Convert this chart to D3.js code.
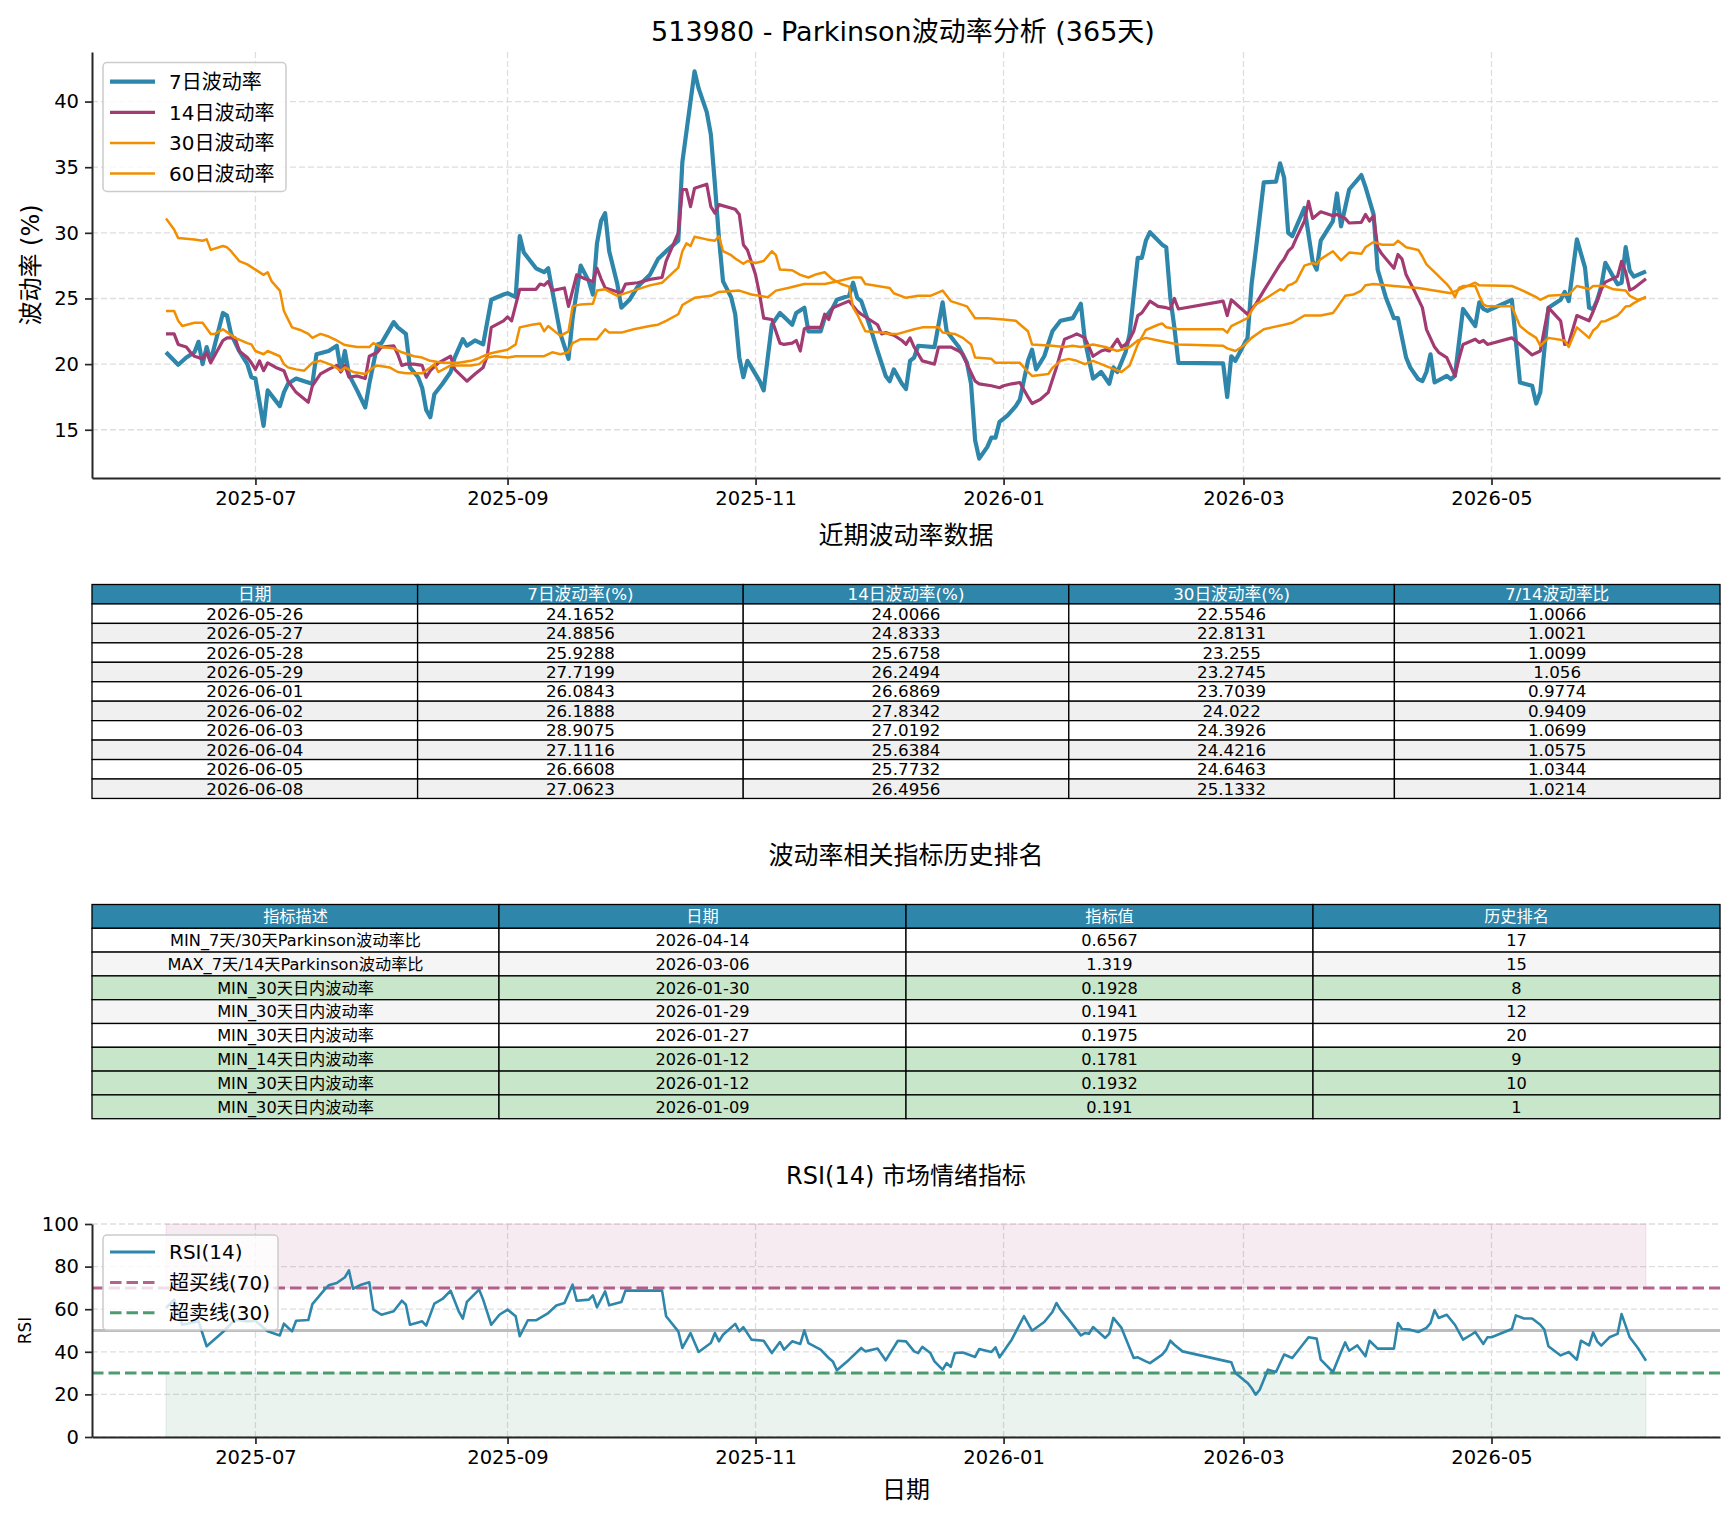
<!DOCTYPE html>
<html><head><meta charset="utf-8">
<script src="https://cdn.jsdelivr.net/npm/d3@7/dist/d3.min.js"></script>
<style>
body{margin:0;background:#fff;}
svg text{font-family:"DejaVu Sans","Noto Sans CJK SC",sans-serif;fill:#000;}
</style></head><body>
<svg id="c" width="1734" height="1516"></svg>
<script>
// ---------------- DATA ----------------
const vol7 = [["2025-06-09",20.9],["2025-06-12",19.95],["2025-06-14",20.5],["2025-06-16",20.9],["2025-06-17",21.7],["2025-06-18",20.0],["2025-06-19",21.3],["2025-06-20",20.25],["2025-06-23",23.9],["2025-06-24",23.7],["2025-06-25",22.3],["2025-06-27",21.0],["2025-06-29",20.0],["2025-06-30",19.0],["2025-07-01",18.9],["2025-07-03",15.3],["2025-07-04",18.0],["2025-07-07",16.8],["2025-07-08",17.85],["2025-07-09",18.5],["2025-07-11",18.9],["2025-07-13",18.7],["2025-07-15",18.5],["2025-07-16",20.75],["2025-07-19",21.0],["2025-07-21",21.4],["2025-07-22",19.5],["2025-07-23",21.0],["2025-07-24",19.2],["2025-07-26",18.0],["2025-07-28",16.7],["2025-07-29",18.5],["2025-07-31",21.5],["2025-08-01",21.6],["2025-08-04",23.2],["2025-08-05",22.8],["2025-08-07",22.3],["2025-08-08",19.75],["2025-08-10",19.0],["2025-08-11",18.2],["2025-08-12",16.5],["2025-08-13",15.95],["2025-08-14",17.7],["2025-08-16",18.5],["2025-08-18",19.4],["2025-08-19",20.5],["2025-08-21",21.9],["2025-08-22",21.4],["2025-08-24",21.8],["2025-08-26",21.5],["2025-08-28",24.9],["2025-08-31",25.3],["2025-09-01",25.4],["2025-09-03",25.1],["2025-09-04",29.75],["2025-09-05",28.5],["2025-09-08",27.3],["2025-09-10",27.0],["2025-09-11",27.3],["2025-09-12",25.6],["2025-09-14",22.3],["2025-09-16",20.4],["2025-09-17",23.5],["2025-09-19",27.5],["2025-09-21",26.3],["2025-09-22",25.3],["2025-09-23",29.2],["2025-09-24",30.9],["2025-09-25",31.5],["2025-09-26",28.6],["2025-09-28",26.1],["2025-09-29",24.3],["2025-10-01",24.9],["2025-10-03",25.9],["2025-10-06",26.8],["2025-10-08",28.0],["2025-10-10",28.6],["2025-10-13",29.4],["2025-10-14",35.4],["2025-10-15",37.7],["2025-10-17",42.3],["2025-10-18",41.0],["2025-10-20",39.2],["2025-10-21",37.5],["2025-10-22",33.7],["2025-10-23",29.6],["2025-10-24",26.3],["2025-10-26",25.1],["2025-10-27",23.8],["2025-10-28",20.5],["2025-10-29",19.0],["2025-10-30",20.25],["2025-10-31",19.75],["2025-11-02",18.7],["2025-11-03",18.0],["2025-11-05",23.0],["2025-11-07",23.9],["2025-11-09",23.3],["2025-11-10",23.0],["2025-11-11",23.9],["2025-11-13",24.3],["2025-11-14",22.5],["2025-11-17",22.5],["2025-11-18",23.5],["2025-11-20",24.3],["2025-11-21",24.9],["2025-11-24",25.2],["2025-11-25",26.2],["2025-11-26",25.05],["2025-11-27",24.8],["2025-11-29",23.0],["2025-12-01",21.0],["2025-12-03",19.1],["2025-12-04",18.7],["2025-12-05",19.6],["2025-12-07",18.5],["2025-12-08",18.1],["2025-12-09",20.25],["2025-12-10",20.5],["2025-12-11",21.4],["2025-12-15",21.3],["2025-12-17",24.7],["2025-12-18",22.5],["2025-12-21",21.3],["2025-12-23",20.1],["2025-12-24",18.5],["2025-12-25",14.2],["2025-12-26",12.8],["2025-12-28",13.7],["2025-12-29",14.4],["2025-12-30",14.4],["2025-12-31",15.6],["2026-01-02",16.1],["2026-01-04",16.8],["2026-01-05",17.3],["2026-01-07",20.25],["2026-01-08",21.1],["2026-01-09",19.6],["2026-01-11",20.6],["2026-01-13",22.5],["2026-01-15",23.3],["2026-01-18",23.5],["2026-01-20",24.6],["2026-01-21",21.8],["2026-01-23",18.9],["2026-01-25",19.4],["2026-01-27",18.5],["2026-01-28",19.75],["2026-01-29",19.4],["2026-01-31",20.9],["2026-02-01",22.3],["2026-02-03",28.1],["2026-02-04",28.1],["2026-02-05",29.4],["2026-02-06",30.05],["2026-02-09",29.1],["2026-02-10",28.9],["2026-02-11",25.1],["2026-02-12",22.8],["2026-02-13",20.1],["2026-02-24",20.05],["2026-02-25",17.5],["2026-02-26",20.6],["2026-02-27",20.25],["2026-03-02",22.0],["2026-03-03",26.1],["2026-03-04",28.6],["2026-03-06",33.85],["2026-03-09",33.9],["2026-03-10",35.3],["2026-03-11",34.2],["2026-03-12",30.0],["2026-03-13",29.75],["2026-03-16",31.9],["2026-03-18",27.85],["2026-03-19",27.2],["2026-03-20",29.4],["2026-03-23",30.9],["2026-03-24",33.0],["2026-03-25",30.5],["2026-03-27",33.3],["2026-03-30",34.4],["2026-03-31",33.5],["2026-04-02",31.4],["2026-04-03",27.2],["2026-04-05",25.1],["2026-04-07",23.5],["2026-04-08",23.5],["2026-04-10",20.5],["2026-04-11",19.75],["2026-04-13",18.85],["2026-04-14",18.7],["2026-04-15",19.4],["2026-04-16",20.75],["2026-04-17",18.6],["2026-04-20",19.1],["2026-04-21",18.85],["2026-04-22",19.1],["2026-04-24",24.2],["2026-04-27",22.9],["2026-04-28",24.7],["2026-04-29",24.2],["2026-04-30",24.05],["2026-05-06",24.9],["2026-05-08",18.6],["2026-05-11",18.35],["2026-05-12",17.0],["2026-05-13",17.85],["2026-05-15",24.3],["2026-05-18",24.9],["2026-05-19",25.5],["2026-05-20",24.8],["2026-05-22",29.5],["2026-05-24",27.35],["2026-05-25",24.3],["2026-05-26",24.1652],["2026-05-27",24.8856],["2026-05-28",25.9288],["2026-05-29",27.7199],["2026-06-01",26.0843],["2026-06-02",26.1888],["2026-06-03",28.9075],["2026-06-04",27.1116],["2026-06-05",26.6608],["2026-06-08",27.0623]];

const vol14 = [["2025-06-09",22.3],["2025-06-11",22.3],["2025-06-12",21.5],["2025-06-14",21.3],["2025-06-15",20.9],["2025-06-16",20.6],["2025-06-18",20.4],["2025-06-19",20.9],["2025-06-20",20.1],["2025-06-23",21.8],["2025-06-24",22.0],["2025-06-26",22.0],["2025-06-27",21.0],["2025-06-29",20.5],["2025-06-30",20.1],["2025-07-01",19.6],["2025-07-02",20.25],["2025-07-03",19.5],["2025-07-04",20.1],["2025-07-06",19.75],["2025-07-08",19.5],["2025-07-09",18.7],["2025-07-11",17.85],["2025-07-14",17.1],["2025-07-15",18.35],["2025-07-17",19.25],["2025-07-19",19.6],["2025-07-21",19.9],["2025-07-22",19.4],["2025-07-23",19.9],["2025-07-24",19.0],["2025-07-26",19.1],["2025-07-28",18.9],["2025-07-29",20.6],["2025-07-31",20.9],["2025-08-01",21.3],["2025-08-04",21.4],["2025-08-05",20.75],["2025-08-06",19.9],["2025-08-07",20.0],["2025-08-09",20.0],["2025-08-11",19.9],["2025-08-12",19.0],["2025-08-13",19.5],["2025-08-15",20.1],["2025-08-18",20.6],["2025-08-19",19.6],["2025-08-22",18.7],["2025-08-24",19.25],["2025-08-26",19.75],["2025-08-27",20.6],["2025-08-28",22.8],["2025-08-31",23.3],["2025-09-01",23.6],["2025-09-02",23.3],["2025-09-04",25.7],["2025-09-08",25.7],["2025-09-09",26.1],["2025-09-10",26.0],["2025-09-11",26.3],["2025-09-12",25.6],["2025-09-15",25.8],["2025-09-16",24.4],["2025-09-18",26.8],["2025-09-20",26.5],["2025-09-22",26.3],["2025-09-23",27.3],["2025-09-24",26.5],["2025-09-25",25.8],["2025-09-27",25.6],["2025-09-29",25.4],["2025-09-30",26.1],["2025-10-03",26.2],["2025-10-06",26.45],["2025-10-09",26.6],["2025-10-10",27.85],["2025-10-13",30.0],["2025-10-14",33.3],["2025-10-15",33.3],["2025-10-16",32.0],["2025-10-17",33.4],["2025-10-20",33.7],["2025-10-21",32.0],["2025-10-22",31.5],["2025-10-23",32.15],["2025-10-27",31.8],["2025-10-28",31.4],["2025-10-29",29.1],["2025-10-30",28.7],["2025-11-01",26.8],["2025-11-02",25.3],["2025-11-03",23.5],["2025-11-05",23.4],["2025-11-07",21.6],["2025-11-08",21.5],["2025-11-10",21.6],["2025-11-11",21.8],["2025-11-12",21.0],["2025-11-13",22.7],["2025-11-14",22.8],["2025-11-17",22.8],["2025-11-18",23.8],["2025-11-19",23.4],["2025-11-20",24.3],["2025-11-22",24.55],["2025-11-24",24.8],["2025-11-26",24.05],["2025-11-27",23.8],["2025-11-29",23.4],["2025-12-01",23.0],["2025-12-02",22.3],["2025-12-03",22.4],["2025-12-05",22.2],["2025-12-07",21.8],["2025-12-08",21.5],["2025-12-09",22.0],["2025-12-10",21.3],["2025-12-12",20.25],["2025-12-15",20.0],["2025-12-16",21.3],["2025-12-19",21.3],["2025-12-21",21.0],["2025-12-22",20.75],["2025-12-23",20.0],["2025-12-25",18.7],["2025-12-26",18.5],["2025-12-29",18.35],["2025-12-31",18.2],["2026-01-01",18.35],["2026-01-03",18.5],["2026-01-05",18.6],["2026-01-07",17.5],["2026-01-08",17.0],["2026-01-10",17.3],["2026-01-12",17.85],["2026-01-14",19.75],["2026-01-16",21.9],["2026-01-18",22.15],["2026-01-19",22.3],["2026-01-21",22.0],["2026-01-23",20.6],["2026-01-25",21.0],["2026-01-26",21.1],["2026-01-27",21.0],["2026-01-29",21.9],["2026-01-30",21.3],["2026-01-31",21.5],["2026-02-01",21.9],["2026-02-02",22.5],["2026-02-03",23.7],["2026-02-04",23.9],["2026-02-06",24.8],["2026-02-08",24.4],["2026-02-10",24.3],["2026-02-11",24.2],["2026-02-12",25.0],["2026-02-13",24.2],["2026-02-24",24.8],["2026-02-25",23.7],["2026-02-26",24.9],["2026-03-02",23.8],["2026-03-03",24.2],["2026-03-04",24.55],["2026-03-06",25.6],["2026-03-08",26.6],["2026-03-10",27.6],["2026-03-11",28.0],["2026-03-12",28.6],["2026-03-13",28.9],["2026-03-14",29.6],["2026-03-16",30.9],["2026-03-17",32.4],["2026-03-18",31.1],["2026-03-20",31.6],["2026-03-23",31.3],["2026-03-24",31.4],["2026-03-26",31.1],["2026-03-27",30.75],["2026-03-30",30.8],["2026-03-31",31.4],["2026-04-01",30.9],["2026-04-02",31.3],["2026-04-03",28.9],["2026-04-04",28.4],["2026-04-07",27.3],["2026-04-08",28.35],["2026-04-09",28.0],["2026-04-10",26.8],["2026-04-12",25.6],["2026-04-14",24.3],["2026-04-15",22.65],["2026-04-17",21.3],["2026-04-18",20.9],["2026-04-20",20.5],["2026-04-22",19.1],["2026-04-23",20.4],["2026-04-24",21.5],["2026-04-27",21.9],["2026-04-28",21.65],["2026-04-29",21.8],["2026-04-30",21.5],["2026-05-06",22.0],["2026-05-08",21.5],["2026-05-11",20.7],["2026-05-13",21.0],["2026-05-15",24.3],["2026-05-18",23.3],["2026-05-19",21.5],["2026-05-20",21.6],["2026-05-22",23.7],["2026-05-25",23.3],["2026-05-26",24.0066],["2026-05-27",24.8333],["2026-05-28",25.6758],["2026-05-29",26.2494],["2026-06-01",26.6869],["2026-06-02",27.8342],["2026-06-03",27.0192],["2026-06-04",25.6384],["2026-06-05",25.7732],["2026-06-08",26.4956]];

const vol30 = [["2025-06-09",31.1],["2025-06-11",30.25],["2025-06-12",29.6],["2025-06-16",29.5],["2025-06-18",29.4],["2025-06-19",29.5],["2025-06-20",28.7],["2025-06-23",29.0],["2025-06-24",28.9],["2025-06-25",28.6],["2025-06-27",27.85],["2025-06-29",27.6],["2025-07-01",27.2],["2025-07-03",26.8],["2025-07-04",27.0],["2025-07-05",26.3],["2025-07-07",25.6],["2025-07-08",24.05],["2025-07-10",22.8],["2025-07-12",22.6],["2025-07-14",22.3],["2025-07-15",22.0],["2025-07-17",22.3],["2025-07-19",22.1],["2025-07-21",21.8],["2025-07-23",21.45],["2025-07-26",21.3],["2025-07-29",21.3],["2025-07-30",21.6],["2025-08-01",21.3],["2025-08-04",21.2],["2025-08-06",20.9],["2025-08-09",20.6],["2025-08-11",20.5],["2025-08-13",20.25],["2025-08-16",20.1],["2025-08-20",20.1],["2025-08-23",20.25],["2025-08-25",20.45],["2025-08-27",20.75],["2025-08-29",20.9],["2025-09-01",21.1],["2025-09-03",21.5],["2025-09-04",22.8],["2025-09-07",23.0],["2025-09-09",23.1],["2025-09-10",22.5],["2025-09-11",22.9],["2025-09-13",22.4],["2025-09-14",22.15],["2025-09-16",22.5],["2025-09-17",24.4],["2025-09-19",24.55],["2025-09-22",24.6],["2025-09-23",25.6],["2025-09-25",25.7],["2025-09-28",25.2],["2025-10-01",25.5],["2025-10-06",26.0],["2025-10-09",26.2],["2025-10-13",27.35],["2025-10-14",28.6],["2025-10-15",29.2],["2025-10-16",29.0],["2025-10-17",29.7],["2025-10-20",29.5],["2025-10-22",29.4],["2025-10-23",29.75],["2025-10-24",28.6],["2025-10-26",28.3],["2025-10-27",28.05],["2025-10-29",27.65],["2025-10-30",27.85],["2025-11-01",27.7],["2025-11-03",27.85],["2025-11-05",28.6],["2025-11-06",28.3],["2025-11-07",27.2],["2025-11-10",27.15],["2025-11-12",26.8],["2025-11-14",26.6],["2025-11-16",26.85],["2025-11-18",27.0],["2025-11-20",26.45],["2025-11-22",26.1],["2025-11-24",25.9],["2025-11-25",24.3],["2025-11-26",23.8],["2025-11-28",22.5],["2025-12-02",22.4],["2025-12-04",22.3],["2025-12-06",22.3],["2025-12-10",22.65],["2025-12-12",22.8],["2025-12-16",22.8],["2025-12-17",22.4],["2025-12-20",22.3],["2025-12-22",22.0],["2025-12-24",21.5],["2025-12-25",20.5],["2025-12-29",20.4],["2025-12-30",20.1],["2026-01-05",20.1],["2026-01-07",19.4],["2026-01-08",19.1],["2026-01-12",19.25],["2026-01-13",19.7],["2026-01-15",20.25],["2026-01-17",20.4],["2026-01-19",20.25],["2026-01-21",20.0],["2026-01-23",20.25],["2026-01-25",20.0],["2026-01-27",19.75],["2026-01-30",19.4],["2026-02-01",19.9],["2026-02-03",21.5],["2026-02-05",22.6],["2026-02-08",23.0],["2026-02-09",23.1],["2026-02-10",22.8],["2026-02-13",22.65],["2026-02-24",22.65],["2026-02-25",22.4],["2026-02-26",22.9],["2026-03-02",23.5],["2026-03-03",24.05],["2026-03-04",24.55],["2026-03-06",24.9],["2026-03-08",25.3],["2026-03-10",25.7],["2026-03-11",25.6],["2026-03-12",26.0],["2026-03-13",26.1],["2026-03-14",26.3],["2026-03-16",27.5],["2026-03-18",27.7],["2026-03-19",27.6],["2026-03-20",28.0],["2026-03-23",28.6],["2026-03-25",27.9],["2026-03-27",28.5],["2026-03-30",28.4],["2026-03-31",28.9],["2026-04-02",29.3],["2026-04-04",29.1],["2026-04-07",29.1],["2026-04-08",29.4],["2026-04-10",28.9],["2026-04-13",28.7],["2026-04-14",28.2],["2026-04-15",27.6],["2026-04-17",27.0],["2026-04-20",26.1],["2026-04-21",25.7],["2026-04-22",25.1],["2026-04-23",25.8],["2026-04-24",25.95],["2026-04-27",25.95],["2026-04-28",25.2],["2026-04-29",24.55],["2026-04-30",24.4],["2026-05-06",24.4],["2026-05-08",22.9],["2026-05-10",22.4],["2026-05-12",22.0],["2026-05-13",21.4],["2026-05-15",22.0],["2026-05-19",21.8],["2026-05-20",21.3],["2026-05-22",22.8],["2026-05-25",22.0],["2026-05-26",22.5546],["2026-05-27",22.8131],["2026-05-28",23.255],["2026-05-29",23.2745],["2026-06-01",23.7039],["2026-06-02",24.022],["2026-06-03",24.3926],["2026-06-04",24.4216],["2026-06-05",24.6463],["2026-06-08",25.1332]];

const vol60 = [["2025-06-09",24.05],["2025-06-11",24.05],["2025-06-12",23.3],["2025-06-13",22.9],["2025-06-16",23.15],["2025-06-18",23.15],["2025-06-20",22.3],["2025-06-21",22.3],["2025-06-23",22.65],["2025-06-26",22.0],["2025-06-29",21.6],["2025-06-30",21.5],["2025-07-01",21.0],["2025-07-03",20.75],["2025-07-04",21.0],["2025-07-07",20.6],["2025-07-08",20.0],["2025-07-09",19.75],["2025-07-11",19.6],["2025-07-13",19.5],["2025-07-15",20.1],["2025-07-17",20.25],["2025-07-20",19.9],["2025-07-22",19.5],["2025-07-23",19.75],["2025-07-25",19.4],["2025-07-28",19.25],["2025-07-30",19.75],["2025-07-31",19.9],["2025-08-03",19.75],["2025-08-05",19.4],["2025-08-07",19.3],["2025-08-11",19.3],["2025-08-13",19.75],["2025-08-14",20.0],["2025-08-15",19.4],["2025-08-18",19.9],["2025-08-23",19.9],["2025-08-25",20.0],["2025-08-27",20.5],["2025-08-29",20.6],["2025-09-01",20.5],["2025-09-03",20.6],["2025-09-10",20.6],["2025-09-12",20.9],["2025-09-14",20.75],["2025-09-16",20.9],["2025-09-17",21.6],["2025-09-19",21.9],["2025-09-23",21.9],["2025-09-25",22.65],["2025-09-26",22.4],["2025-09-29",22.4],["2025-10-02",22.65],["2025-10-06",22.9],["2025-10-08",23.0],["2025-10-10",23.3],["2025-10-13",23.8],["2025-10-14",24.5],["2025-10-17",25.05],["2025-10-21",25.2],["2025-10-23",25.5],["2025-10-28",25.6],["2025-10-31",25.3],["2025-11-04",25.1],["2025-11-06",25.6],["2025-11-09",25.8],["2025-11-13",26.1],["2025-11-18",26.1],["2025-11-21",26.3],["2025-11-25",26.6],["2025-11-27",26.6],["2025-11-28",26.1],["2025-12-04",25.8],["2025-12-05",25.4],["2025-12-08",25.05],["2025-12-11",25.2],["2025-12-14",25.2],["2025-12-17",25.6],["2025-12-19",24.8],["2025-12-23",24.4],["2025-12-25",23.5],["2025-12-28",23.5],["2026-01-01",23.4],["2026-01-04",23.3],["2026-01-07",22.5],["2026-01-08",21.5],["2026-01-13",21.4],["2026-01-16",21.3],["2026-01-18",21.4],["2026-01-20",21.3],["2026-01-23",21.5],["2026-01-26",21.3],["2026-01-29",21.0],["2026-02-01",21.3],["2026-02-03",21.8],["2026-02-05",22.0],["2026-02-08",21.8],["2026-02-13",21.5],["2026-02-24",21.4],["2026-02-25",21.2],["2026-02-27",21.0],["2026-03-01",21.4],["2026-03-03",22.0],["2026-03-06",22.65],["2026-03-08",22.8],["2026-03-11",23.0],["2026-03-13",23.15],["2026-03-16",23.7],["2026-03-20",23.7],["2026-03-23",23.9],["2026-03-24",24.3],["2026-03-26",25.2],["2026-03-28",25.3],["2026-03-30",25.6],["2026-03-31",26.0],["2026-04-02",26.1],["2026-04-07",25.95],["2026-04-13",25.8],["2026-04-15",25.7],["2026-04-21",25.4],["2026-04-24",25.8],["2026-04-27",26.2],["2026-04-28",26.0],["2026-05-06",25.95],["2026-05-08",25.7],["2026-05-12",25.1],["2026-05-13",24.9],["2026-05-15",25.2],["2026-05-20",25.3],["2026-05-22",25.95],["2026-05-24",25.8],["2026-05-25",25.7],["2026-05-26",25.95],["2026-05-29",25.95],["2026-05-31",25.7],["2026-06-03",25.6],["2026-06-04",25.2],["2026-06-06",24.9],["2026-06-08",25.06]];

const rsi14 = [["2025-06-09",60.6],["2025-06-11",64.5],["2025-06-13",52.7],["2025-06-17",54.3],["2025-06-19",42.6],["2025-06-23",49.3],["2025-06-26",55.1],["2025-06-29",54.3],["2025-07-01",54.6],["2025-07-04",49.6],["2025-07-07",47.7],["2025-07-08",53.2],["2025-07-10",49.6],["2025-07-11",54.6],["2025-07-14",54.9],["2025-07-15",62.4],["2025-07-18",69.2],["2025-07-19",71.2],["2025-07-21",72.3],["2025-07-23",75.0],["2025-07-24",78.2],["2025-07-25",69.6],["2025-07-27",71.5],["2025-07-29",72.6],["2025-07-30",59.8],["2025-08-01",57.4],["2025-08-04",59.0],["2025-08-06",64.0],["2025-08-07",62.1],["2025-08-08",52.7],["2025-08-10",53.8],["2025-08-11",54.3],["2025-08-12",52.3],["2025-08-14",62.6],["2025-08-16",64.8],["2025-08-18",68.7],["2025-08-20",59.0],["2025-08-21",55.6],["2025-08-22",63.4],["2025-08-25",69.2],["2025-08-26",64.5],["2025-08-28",52.7],["2025-08-30",57.4],["2025-09-01",59.8],["2025-09-03",56.7],["2025-09-04",47.3],["2025-09-06",54.8],["2025-09-08",54.8],["2025-09-11",58.2],["2025-09-13",61.7],["2025-09-15",62.9],["2025-09-17",71.5],["2025-09-18",64.0],["2025-09-21",64.5],["2025-09-22",66.5],["2025-09-23",60.9],["2025-09-25",68.4],["2025-09-26",61.8],["2025-09-29",63.4],["2025-09-30",68.7],["2025-10-09",68.7],["2025-10-10",56.7],["2025-10-13",49.6],["2025-10-14",41.8],["2025-10-16",48.8],["2025-10-18",39.9],["2025-10-21",44.1],["2025-10-22",48.8],["2025-10-23",44.9],["2025-10-24",48.0],["2025-10-27",53.1],["2025-10-28",49.6],["2025-10-29",51.6],["2025-10-31",45.7],["2025-11-03",45.2],["2025-11-05",39.4],["2025-11-07",44.6],["2025-11-08",41.0],["2025-11-10",44.9],["2025-11-12",43.7],["2025-11-13",50.1],["2025-11-14",44.1],["2025-11-17",41.0],["2025-11-19",37.1],["2025-11-20",35.5],["2025-11-21",31.3],["2025-11-24",36.3],["2025-11-27",41.8],["2025-11-28",40.2],["2025-12-01",41.5],["2025-12-03",36.0],["2025-12-06",45.2],["2025-12-08",44.9],["2025-12-10",40.2],["2025-12-11",39.4],["2025-12-12",42.3],["2025-12-14",39.4],["2025-12-15",35.5],["2025-12-17",31.6],["2025-12-18",34.7],["2025-12-19",32.9],["2025-12-20",39.4],["2025-12-22",39.7],["2025-12-24",38.3],["2025-12-25",37.6],["2025-12-26",41.3],["2025-12-29",39.9],["2025-12-30",42.1],["2025-12-31",37.4],["2026-01-03",45.7],["2026-01-06",56.7],["2026-01-08",49.9],["2026-01-11",54.0],["2026-01-13",58.7],["2026-01-14",62.9],["2026-01-15",59.8],["2026-01-17",55.1],["2026-01-20",47.7],["2026-01-21",48.8],["2026-01-22",48.5],["2026-01-23",51.6],["2026-01-26",46.5],["2026-01-27",48.5],["2026-01-28",55.9],["2026-01-30",51.2],["2026-01-31",46.5],["2026-02-02",37.1],["2026-02-03",37.4],["2026-02-05",35.5],["2026-02-06",34.7],["2026-02-09",38.7],["2026-02-10",41.0],["2026-02-11",45.2],["2026-02-12",43.3],["2026-02-14",40.2],["2026-02-25",35.5],["2026-02-26",35.1],["2026-02-27",30.0],["2026-03-02",25.4],["2026-03-03",23.0],["2026-03-04",19.9],["2026-03-05",22.2],["2026-03-07",31.6],["2026-03-09",30.5],["2026-03-11",38.7],["2026-03-13",37.1],["2026-03-17",46.8],["2026-03-19",46.2],["2026-03-20",36.3],["2026-03-23",30.5],["2026-03-25",39.9],["2026-03-26",44.4],["2026-03-27",40.5],["2026-03-29",43.0],["2026-03-31",37.9],["2026-04-01",45.2],["2026-04-03",41.5],["2026-04-07",41.5],["2026-04-08",53.5],["2026-04-09",50.7],["2026-04-11",50.4],["2026-04-13",49.3],["2026-04-15",51.2],["2026-04-16",53.5],["2026-04-17",59.5],["2026-04-18",55.9],["2026-04-20",57.4],["2026-04-22",52.7],["2026-04-24",45.7],["2026-04-26",48.0],["2026-04-27",49.3],["2026-04-29",43.7],["2026-04-30",46.8],["2026-05-01",46.8],["2026-05-06",50.7],["2026-05-07",57.1],["2026-05-09",55.6],["2026-05-11",55.6],["2026-05-13",52.7],["2026-05-14",50.4],["2026-05-15",42.6],["2026-05-18",38.3],["2026-05-20",39.9],["2026-05-22",36.3],["2026-05-23",45.2],["2026-05-25",43.0],["2026-05-26",49.1],["2026-05-27",44.9],["2026-05-28",42.9],["2026-05-30",46.8],["2026-06-01",48.4],["2026-06-02",57.7],["2026-06-04",46.8],["2026-06-06",41.8],["2026-06-08",35.8]];

const ratio714 = ["1.0066","1.0021","1.0099","1.056","0.9774","0.9409","1.0699","1.0575","1.0344","1.0214"];
const table1Header = ["日期","7日波动率(%)","14日波动率(%)","30日波动率(%)","7/14波动率比"];

const rankHeader = ["指标描述","日期","指标值","历史排名"];
const rankDesc = ["MIN_7天/30天Parkinson波动率比","MAX_7天/14天Parkinson波动率比","MIN_30天日内波动率","MIN_30天日内波动率","MIN_30天日内波动率","MIN_14天日内波动率","MIN_30天日内波动率","MIN_30天日内波动率"];
const rankDate = ["2026-04-14","2026-03-06","2026-01-30","2026-01-29","2026-01-27","2026-01-12","2026-01-12","2026-01-09"];
const rankValue = ["0.6567","1.319","0.1928","0.1941","0.1975","0.1781","0.1932","0.191"];
const rankPos = [17,15,8,12,20,9,10,1];

const seriesNames = ["7日波动率","14日波动率","30日波动率","60日波动率"];
const rsiLegend = ["RSI(14)","超买线(70)","超卖线(30)"];
const rsiLevels = {overbought:70, mid:50, oversold:30};

// ---------------- DRAW ----------------
const svg = d3.select("#c");
const parse = d3.timeParse("%Y-%m-%d");
const pts = a => a.map(([d,v]) => ({date: parse(d), v}));
const S7 = pts(vol7), S14 = pts(vol14), S30 = pts(vol30), S60 = pts(vol60), SR = pts(rsi14);

const COL = {c7:"#2E86AB", c14:"#A23B72", c30:"#F18F01", c60:"#F18F01", green:"#2E8B57", grid:"#dedede", spine:"#262626"};

const L = 92, R = 1720;
const [t0, t1] = d3.extent(S7, d => d.date);
const tp = (t1 - t0) * 0.05;
const x = d3.scaleTime().domain([new Date(+t0 - tp), new Date(+t1 + tp)]).range([L, R]);
const monthTicks = d3.timeMonth.every(2).range(x.domain()[0], x.domain()[1]);
const fmt = d3.timeFormat("%Y-%m");

function styleAxis(g, fs){
  g.select(".domain").attr("stroke", COL.spine).attr("stroke-width", 2);
  g.selectAll(".tick line").attr("stroke", COL.spine).attr("stroke-width", 1.7);
  g.selectAll(".tick text").attr("font-size", fs).attr("fill", "#000")
    .style("font-family", '"DejaVu Sans","Noto Sans CJK SC",sans-serif');
}

// ===== top chart =====
const T = 52, B = 478;
const allV = [].concat(S7, S14, S30, S60).map(d => d.v);
const [vmin, vmax] = d3.extent(allV);
const vp = (vmax - vmin) * 0.05;
const y = d3.scaleLinear().domain([vmin - vp, vmax + vp]).range([B, T]);

svg.append("text").attr("x", (L+R)/2 - 3).attr("y", 41).attr("text-anchor","middle")
  .attr("font-size", 27).text("513980 - Parkinson波动率分析 (365天)");

const g1 = svg.append("g");
g1.selectAll(".gx").data(monthTicks).join("line")
  .attr("x1", d => x(d)).attr("x2", d => x(d)).attr("y1", T).attr("y2", B)
  .attr("stroke", COL.grid).attr("stroke-width", 1.3).attr("stroke-dasharray", "6,3");
g1.selectAll(".gy").data(y.ticks(6)).join("line")
  .attr("x1", L).attr("x2", R).attr("y1", d => y(d)).attr("y2", d => y(d))
  .attr("stroke", COL.grid).attr("stroke-width", 1.3).attr("stroke-dasharray", "6,3");

const line = sc => d3.line().x(d => x(d.date)).y(d => sc(d.v));
const vs = [[S7, COL.c7, 4.2],[S14, COL.c14, 3.2],[S30, COL.c30, 2.5],[S60, COL.c60, 2.5]];
vs.forEach(([s,c,w]) => g1.append("path").datum(s).attr("d", line(y)).attr("fill","none")
  .attr("stroke", c).attr("stroke-width", w).attr("stroke-linejoin","round"));

const ax1 = g1.append("g").attr("transform", `translate(0,${B})`)
  .call(d3.axisBottom(x).tickValues(monthTicks).tickFormat(fmt).tickSize(7).tickPadding(6).tickSizeOuter(0));
styleAxis(ax1, 19.5);
const ay1 = g1.append("g").attr("transform", `translate(${L},0)`)
  .call(d3.axisLeft(y).ticks(6).tickSize(7).tickPadding(6).tickSizeOuter(0));
styleAxis(ay1, 19.5);

svg.append("text").attr("transform", `translate(39,${(T+B)/2}) rotate(-90)`)
  .attr("text-anchor","middle").attr("font-size", 24).text("波动率 (%)");

const lg = svg.append("g");
lg.append("rect").attr("x",103).attr("y",62.5).attr("width",183).attr("height",129).attr("rx",4)
  .attr("fill","#fff").attr("fill-opacity",0.8).attr("stroke","#cccccc").attr("stroke-width",1.5);
seriesNames.forEach((n,i) => {
  const yy = 81.7 + i*30.6;
  lg.append("line").attr("x1",110).attr("x2",155).attr("y1",yy).attr("y2",yy)
    .attr("stroke", vs[i][1]).attr("stroke-width", vs[i][2]);
  lg.append("text").attr("x",169).attr("y", yy + 7.3).attr("font-size",20).text(n);
});

// ===== tables =====
function drawTable(x0, x1, top, rowH, header, rows, fills, fs){
  const g = svg.append("g"), n = header.length, cw = (x1 - x0)/n;
  const all = [header].concat(rows);
  all.forEach((r,i) => {
    r.forEach((cell,j) => {
      g.append("rect").attr("x", x0 + j*cw).attr("y", top + i*rowH).attr("width", cw).attr("height", rowH)
        .attr("fill", i === 0 ? COL.c7 : fills[i-1]).attr("stroke","#000").attr("stroke-width",1.3);
      g.append("text").attr("x", x0 + j*cw + cw/2).attr("y", top + i*rowH + rowH/2 + fs*0.36)
        .attr("text-anchor","middle").attr("font-size", fs)
        .style("fill", i === 0 ? "#fff" : "#000").text(cell);
    });
  });
}
svg.append("text").attr("x",(L+R)/2).attr("y",544).attr("text-anchor","middle").attr("font-size",25).text("近期波动率数据");
const last7 = vol7.slice(-10), last14 = vol14.slice(-10), last30 = vol30.slice(-10);
const t1rows = last7.map((d,i) => [d[0], String(d[1]), String(last14[i][1]), String(last30[i][1]), ratio714[i]]);
drawTable(L, R, 584.5, 19.45, table1Header, t1rows, t1rows.map((_,i) => i%2 ? "#f0f0f0" : "#ffffff"), 16.7);

svg.append("text").attr("x",(L+R)/2).attr("y",864).attr("text-anchor","middle").attr("font-size",25).text("波动率相关指标历史排名");
const t2rows = rankDesc.map((d,i) => [d, rankDate[i], rankValue[i], String(rankPos[i])]);
drawTable(L, R, 904.5, 23.8, rankHeader, t2rows, rankPos.map((p,i) => p <= 10 ? "#c8e6c9" : (i%2 ? "#f5f5f5" : "#ffffff")), 16.2);

// ===== RSI chart =====
const RT = 1224, RB = 1437;
const yr = d3.scaleLinear().domain([0,100]).range([RB, RT]);
svg.append("text").attr("x",(L+R)/2).attr("y",1184).attr("text-anchor","middle").attr("font-size",24).text("RSI(14) 市场情绪指标");
const g2 = svg.append("g");
g2.selectAll(".gx").data(monthTicks).join("line")
  .attr("x1", d => x(d)).attr("x2", d => x(d)).attr("y1", RT).attr("y2", RB)
  .attr("stroke", COL.grid).attr("stroke-width", 1.3).attr("stroke-dasharray", "6,3");
g2.selectAll(".gy").data(yr.ticks(5)).join("line")
  .attr("x1", L).attr("x2", R).attr("y1", d => yr(d)).attr("y2", d => yr(d))
  .attr("stroke", COL.grid).attr("stroke-width", 1.3).attr("stroke-dasharray", "6,3");
const [r0, r1] = d3.extent(SR, d => d.date);
g2.append("rect").attr("x", x(r0)).attr("width", x(r1)-x(r0)).attr("y", yr(100)).attr("height", yr(rsiLevels.overbought)-yr(100))
  .attr("fill", COL.c14).attr("fill-opacity", 0.1).attr("stroke", COL.c14).attr("stroke-opacity", 0.12);
g2.append("rect").attr("x", x(r0)).attr("width", x(r1)-x(r0)).attr("y", yr(rsiLevels.oversold)).attr("height", yr(0)-yr(rsiLevels.oversold))
  .attr("fill", COL.green).attr("fill-opacity", 0.1).attr("stroke", COL.green).attr("stroke-opacity", 0.12);
g2.append("line").attr("x1",L).attr("x2",R).attr("y1",yr(rsiLevels.mid)).attr("y2",yr(rsiLevels.mid))
  .attr("stroke","#bdbdbd").attr("stroke-width",3);
g2.append("line").attr("x1",L).attr("x2",R).attr("y1",yr(rsiLevels.overbought)).attr("y2",yr(rsiLevels.overbought))
  .attr("stroke",COL.c14).attr("stroke-opacity",0.8).attr("stroke-width",3).attr("stroke-dasharray","11.5,5");
g2.append("line").attr("x1",L).attr("x2",R).attr("y1",yr(rsiLevels.oversold)).attr("y2",yr(rsiLevels.oversold))
  .attr("stroke",COL.green).attr("stroke-opacity",0.85).attr("stroke-width",3).attr("stroke-dasharray","11.5,5");
g2.append("path").datum(SR).attr("d", line(yr)).attr("fill","none").attr("stroke",COL.c7)
  .attr("stroke-width",2.6).attr("stroke-linejoin","round");

const ax2 = g2.append("g").attr("transform", `translate(0,${RB})`)
  .call(d3.axisBottom(x).tickValues(monthTicks).tickFormat(fmt).tickSize(7).tickPadding(6).tickSizeOuter(0));
styleAxis(ax2, 19.5);
const ay2 = g2.append("g").attr("transform", `translate(${L},0)`)
  .call(d3.axisLeft(yr).ticks(5).tickSize(7).tickPadding(6).tickSizeOuter(0));
styleAxis(ay2, 19.5);

svg.append("text").attr("transform", `translate(30.5,${(RT+RB)/2}) rotate(-90)`)
  .attr("text-anchor","middle").attr("font-size", 17).text("RSI");
svg.append("text").attr("x",(L+R)/2).attr("y",1498).attr("text-anchor","middle").attr("font-size",24).text("日期");

const lg2 = svg.append("g");
lg2.append("rect").attr("x",103).attr("y",1235).attr("width",175).attr("height",95).attr("rx",4)
  .attr("fill","#fff").attr("fill-opacity",0.8).attr("stroke","#cccccc").attr("stroke-width",1.5);
const rsiStyles = [[COL.c7, null, 1], [COL.c14, "11.5,5", 0.8], [COL.green, "11.5,5", 0.85]];
rsiLegend.forEach((n,i) => {
  const yy = 1252 + i*30.4;
  lg2.append("line").attr("x1",110).attr("x2",155).attr("y1",yy).attr("y2",yy)
    .attr("stroke", rsiStyles[i][0]).attr("stroke-opacity", rsiStyles[i][2])
    .attr("stroke-width", 3).attr("stroke-dasharray", rsiStyles[i][1]);
  lg2.append("text").attr("x",169).attr("y", yy + 7.3).attr("font-size",20).text(n);
});
</script>
</body></html>
